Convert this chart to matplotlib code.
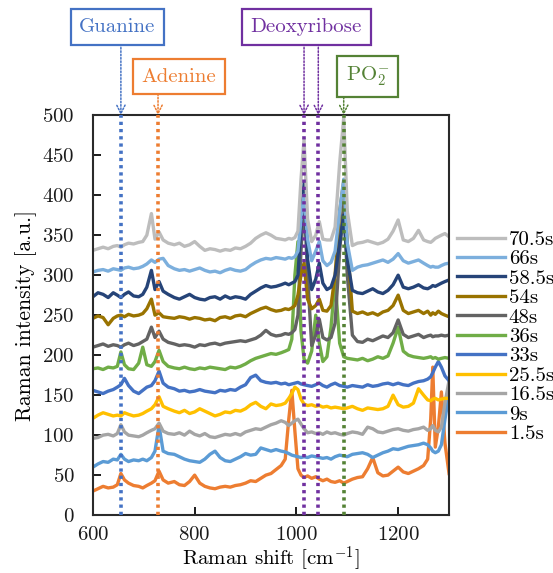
"""Time-resolved Raman spectra of DNA with band assignments."""

import matplotlib

matplotlib.use("Agg")
import matplotlib.pyplot as plt

plt.rcParams["font.family"] = ["cmr10", "DejaVu Serif"]
plt.rcParams["mathtext.fontset"] = "cm"
plt.rcParams["axes.formatter.use_mathtext"] = True

# Raman shift [cm^-1], shared by every spectrum
shift = [
    600, 610, 620, 630, 640, 648, 655, 662, 670, 680,
    690, 698, 706, 715, 722, 730, 738, 748, 760, 770,
    780, 790, 800, 810, 820, 830, 840, 850, 860, 870,
    880, 890, 900, 910, 920, 930, 940, 950, 960, 970,
    978, 985, 991, 997, 1003, 1009, 1015, 1022, 1030, 1038,
    1045, 1052, 1060, 1068, 1076, 1085, 1093, 1100, 1110, 1120,
    1130, 1140, 1150, 1160, 1170, 1180, 1190, 1200, 1210, 1220,
    1230, 1240, 1250, 1258, 1264, 1268, 1273, 1279, 1285, 1292, 1300,
]

s_1_5 = [
    30, 33, 36, 34, 35, 38, 52, 44, 40, 37,
    36, 34, 37, 40, 43, 55, 44, 40, 42, 38,
    37, 42, 50, 40, 36, 34, 33, 35, 36, 35,
    37, 38, 40, 43, 42, 46, 50, 52, 57, 62,
    70, 120, 156, 105, 58, 50, 47, 49, 46, 48,
    45, 43, 45, 42, 41, 43, 40, 42, 45, 47,
    48, 58, 72, 53, 49, 50, 55, 60, 54, 52,
    55, 58, 62, 70, 120, 185, 85, 110, 154, 90, 52,
]
s_9 = [
    60, 64, 67, 66, 70, 69, 76, 70, 67, 69,
    68, 70, 68, 72, 80, 112, 80, 77, 76, 73,
    70, 68, 67, 66, 70, 76, 80, 72, 68, 67,
    70, 73, 77, 75, 76, 84, 82, 80, 82, 80,
    79, 77, 75, 74, 73, 72, 73, 72, 74, 73,
    72, 71, 72, 70, 73, 75, 74, 73, 76, 77,
    78, 76, 72, 75, 78, 80, 83, 82, 84, 86,
    87, 88, 90, 88, 84, 80, 78, 80, 88, 120, 150,
]
s_16_5 = [
    96, 97, 100, 101, 99, 102, 113, 104, 100, 99,
    98, 100, 103, 106, 108, 115, 105, 102, 101, 103,
    100, 105, 101, 99, 102, 98, 97, 99, 101, 100,
    102, 100, 104, 106, 108, 107, 110, 113, 115, 118,
    116, 112, 115, 118, 120, 114, 108, 103, 104, 102,
    103, 101, 104, 102, 103, 101, 100, 102, 104, 103,
    101, 110, 108, 104, 103, 105, 107, 108, 106, 105,
    107, 108, 110, 106, 108, 112, 106, 104, 110, 140, 168,
]
s_25_5 = [
    121, 125, 128, 126, 124, 125, 124, 128, 126, 124,
    125, 127, 130, 133, 138, 148, 136, 133, 130, 128,
    131, 127, 129, 133, 130, 127, 124, 126, 129, 128,
    131, 130, 133, 138, 141, 136, 133, 139, 137, 138,
    140, 146, 152, 160, 157, 145, 139, 137, 138, 136,
    137, 135, 136, 134, 135, 134, 133, 134, 136, 133,
    131, 134, 133, 132, 133, 136, 150, 138, 135, 136,
    140, 158, 150, 144, 143, 145, 146, 144, 145, 146, 146,
]
s_33 = [
    156, 154, 152, 155, 157, 160, 163, 171, 162, 155,
    152, 156, 160, 162, 168, 180, 165, 160, 158, 155,
    156, 154, 155, 157, 155, 154, 153, 156, 155, 157,
    156, 160, 163, 172, 175, 168, 166, 165, 166, 164,
    165, 163, 164, 165, 166, 164, 163, 162, 161, 163,
    165, 162, 160, 163, 165, 162, 161, 160, 162, 161,
    160, 163, 161, 162, 164, 165, 163, 165, 163, 162,
    165, 167, 168, 170, 173, 178, 185, 192, 185, 174, 168,
]
s_36 = [
    183, 184, 182, 185, 184, 186, 204, 188, 183, 182,
    190, 210, 188, 186, 192, 206, 192, 186, 184, 183,
    185, 183, 182, 184, 183, 185, 184, 183, 182, 185,
    184, 186, 189, 193, 196, 198, 200, 202, 201, 203,
    205, 207, 220, 300, 342, 230, 195, 190, 205, 250,
    215, 192, 198, 235, 294, 215, 198, 196, 195, 194,
    196, 193, 195, 198, 196, 199, 215, 235, 205, 200,
    198, 197, 196, 197, 198, 196, 197, 195, 196, 197, 196,
]
s_48 = [
    210, 212, 214, 211, 213, 212, 210, 213, 215, 212,
    214, 217, 220, 235, 222, 230, 220, 216, 214, 212,
    213, 212, 210, 213, 212, 214, 215, 213, 215, 216,
    217, 218, 217, 219, 221, 225, 231, 226, 224, 225,
    227, 226, 228, 232, 250, 330, 395, 300, 212, 225,
    245, 222, 219, 222, 240, 330, 390, 300, 225, 217,
    216, 220, 218, 221, 224, 222, 228, 244, 226, 222,
    224, 226, 222, 224, 225, 223, 224, 224, 225, 224, 225,
]
s_54 = [
    246, 249, 247, 238, 246, 249, 250, 248, 251, 249,
    250, 252, 258, 270, 250, 253, 248, 247, 246, 248,
    247, 245, 247, 246, 244, 245, 243, 247, 248, 246,
    249, 250, 248, 252, 255, 258, 260, 257, 255, 256,
    258, 257, 259, 262, 275, 300, 315, 270, 258, 262,
    270, 256, 255, 262, 300, 380, 417, 340, 255, 252,
    254, 251, 253, 250, 254, 256, 262, 275, 256, 252,
    254, 256, 252, 255, 250, 253, 251, 255, 252, 250, 248,
]
s_58_5 = [
    273, 278, 276, 272, 278, 275, 272, 276, 279, 274,
    273, 276, 285, 306, 282, 292, 280, 276, 272, 270,
    273, 276, 272, 270, 269, 272, 273, 270, 274, 271,
    273, 272, 270, 276, 280, 284, 287, 285, 286, 288,
    290, 288, 290, 292, 300, 360, 415, 320, 282, 295,
    315, 290, 282, 285, 300, 340, 375, 320, 281, 278,
    277, 280, 283, 279, 277, 281, 288, 300, 285, 283,
    285, 288, 284, 283, 285, 287, 286, 288, 290, 292, 294,
]
s_66 = [
    304, 306, 307, 305, 308, 307, 306, 309, 310, 308,
    309, 311, 314, 319, 316, 320, 321, 312, 308, 306,
    307, 305, 307, 309, 306, 304, 305, 303, 306, 308,
    306, 305, 307, 312, 316, 319, 321, 320, 322, 321,
    320, 322, 321, 323, 330, 370, 400, 345, 318, 330,
    342, 318, 312, 316, 330, 380, 420, 340, 306, 310,
    312, 313, 315, 317, 319, 316, 320, 327, 318, 315,
    317, 319, 315, 312, 310, 311, 310, 310, 312, 314, 315,
]
s_70_5 = [
    331, 333, 335, 333, 336, 337, 335, 338, 340, 339,
    341, 342, 350, 377, 345, 354, 344, 340, 338, 340,
    336, 338, 342, 336, 331, 333, 332, 330, 332, 331,
    334, 333, 336, 340, 346, 350, 353, 350, 346, 345,
    344, 346, 345, 347, 355, 420, 470, 370, 342, 350,
    367, 345, 344, 344, 360, 440, 497, 380, 337, 340,
    341, 343, 341, 339, 341, 345, 355, 369, 344, 342,
    346, 356, 344, 342, 341, 343, 346, 348, 350, 352, 348,
]

labels = ["1.5s", "9s", "16.5s", "25.5s", "33s", "36s", "48s", "54s", "58.5s", "66s", "70.5s"]
spectra = [s_1_5, s_9, s_16_5, s_25_5, s_33, s_36, s_48, s_54, s_58_5, s_66, s_70_5]
colors = [
    "#ED7D31", "#5B9BD5", "#A5A5A5", "#FFC000", "#4472C4", "#70AD47",
    "#636363", "#997300", "#264478", "#7CAFDD", "#BDBDBD",
]

# band assignments: (name, positions, colour, box centre in figure coords)
bands = [
    ("Guanine", [655], "#4472C4", (0.2125, 0.953)),
    ("Adenine", [728], "#ED7D31", (0.324, 0.866)),
    ("Deoxyribose", [1015, 1043], "#7030A0", (0.554, 0.953)),
    (r"PO$_2^{-}$", [1093], "#548235", (0.6645, 0.866)),
]

fig = plt.figure(figsize=(5.53, 5.73), dpi=100)
ax = fig.add_axes([0.168, 0.101, 0.644, 0.698])

for y, lab, col in zip(spectra, labels, colors):
    ax.plot(shift, y, color=col, lw=2.4, label=lab, solid_joinstyle="round")

for name, pos, col, (bx, by) in bands:
    for p in pos:
        ax.axvline(p, color=col, lw=2.6, ls=(0, (0.9, 1.1)), zorder=5)
    fig.text(
        bx, by, name, color=col, fontsize=15, ha="center", va="center",
        bbox=dict(boxstyle="square,pad=0.42", fc="white", ec=col, lw=1.6),
    )
    for p in pos:
        ax.annotate(
            "", xy=(p, 1.0), xycoords=("data", "axes fraction"),
            xytext=(p, by - 0.03), textcoords=("data", "figure fraction"),
            arrowprops=dict(arrowstyle="->,head_length=0.6,head_width=0.3",
                            color=col, lw=1.1, ls=(0, (1, 1.2)), shrinkA=0, shrinkB=0),
            annotation_clip=False,
        )

ax.set_xlim(600, 1300)
ax.set_ylim(0, 500)
ax.set_xticks([600, 800, 1000, 1200])
ax.set_yticks(range(0, 501, 50))
ax.tick_params(direction="in", labelsize=15, length=6, width=1.4, colors="#1a1a1a")
ax.tick_params(axis="x", pad=8)
ax.tick_params(axis="y", pad=13)
for sp in ax.spines.values():
    sp.set_color("#2a2a2a")
    sp.set_linewidth(1.5)

ax.set_xlabel(r"Raman shift [cm$^{-1}$]", fontsize=15, labelpad=0)
ax.set_ylabel("Raman intensity [a.u.]", fontsize=15.5, labelpad=4)

handles, names = ax.get_legend_handles_labels()
fig.legend(
    handles[::-1], names[::-1], loc="upper left", bbox_to_anchor=(0.826, 0.598),
    frameon=False, fontsize=15, handlelength=2.3, handletextpad=0.2,
    labelspacing=0.04, borderpad=0, borderaxespad=0,
)

fig.savefig("out.png", dpi=100)
